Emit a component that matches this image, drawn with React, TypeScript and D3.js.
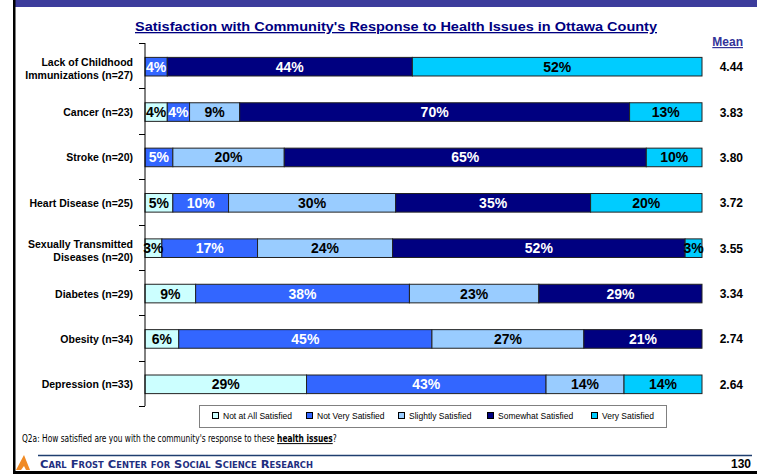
import React, { useEffect, useRef } from 'react';
import * as d3 from 'd3';

// categories (label lines) and means
const categoryLines: string[][] = [
  ["Lack of Childhood", "Immunizations (n=27)"],
  ["Cancer (n=23)"],
  ["Stroke (n=20)"],
  ["Heart Disease (n=25)"],
  ["Sexually Transmitted", "Diseases (n=20)"],
  ["Diabetes (n=29)"],
  ["Obesity (n=34)"],
  ["Depression (n=33)"],
];
const means = ["4.44", "3.83", "3.80", "3.72", "3.55", "3.34", "2.74", "2.64"];

// series values (percent)
const notAtAll = [0, 4, 0, 5, 3, 9, 6, 29];
const notVery = [4, 4, 5, 10, 17, 38, 45, 43];
const slightly = [0, 9, 20, 30, 24, 23, 27, 14];
const somewhat = [44, 70, 65, 35, 52, 29, 21, 0];
const very = [52, 13, 10, 20, 3, 0, 0, 14];

const seriesNames = [
  "Not at All Satisfied",
  "Not Very Satisfied",
  "Slightly Satisfied",
  "Somewhat Satisfied",
  "Very Satisfied",
];
const seriesValues = [notAtAll, notVery, slightly, somewhat, very];

const title = "Satisfaction with Community's Response to Health Issues in Ottawa County";

interface Row {
  cat: string;
  [key: string]: number | string;
}

const W = 757;
const H = 474;

const App: React.FC = () => {
  const svgRef = useRef<SVGSVGElement>(null);

  useEffect(() => {
    if (!svgRef.current) return;
    const svg = d3.select(svgRef.current);
    svg.selectAll("*").remove();

    const font = "'Liberation Sans', Arial, sans-serif";
    const colors = ["#CCFFFF", "#3366FF", "#99CCFF", "#000080", "#00CCFF"];
    const textColors = ["#000", "#fff", "#000", "#fff", "#000"];

    const cats = categoryLines.map(l => l.join(" "));
    const rows: Row[] = cats.map((c, i) => {
      const r: Row = { cat: c };
      seriesNames.forEach((s, j) => { r[s] = seriesValues[j][i]; });
      return r;
    });

    // frame
    svg.append("rect").attr("width", W).attr("height", H).attr("fill", "#fff");
    svg.append("rect").attr("x", 14).attr("y", 0).attr("width", W - 14).attr("height", 7).attr("fill", "#3C3C9C");
    svg.append("rect").attr("x", 13).attr("y", 0).attr("width", 2.5).attr("height", H).attr("fill", "#000");
    svg.append("rect").attr("x", 13).attr("y", 471).attr("width", W - 13).attr("height", 3).attr("fill", "#000");

    // title
    svg.append("text")
      .attr("x", 396).attr("y", 31)
      .attr("text-anchor", "middle")
      .attr("font-family", font).attr("font-weight", "bold").attr("font-size", 13)
      .attr("fill", "#000080")
      .attr("text-decoration", "underline")
      .attr("textLength", 522).attr("lengthAdjust", "spacingAndGlyphs")
      .text(title);

    // scales
    const x = d3.scaleLinear().domain([0, 1]).range([145, 702]);
    const y = d3.scaleBand().domain(cats).range([43, 406]).paddingInner(0.59).paddingOuter(0.295);
    const step = y.step();

    const stack = d3.stack<Row>()
      .keys(seriesNames)
      .value((d, k) => d[k] as number)
      .offset(d3.stackOffsetExpand);
    const series = stack(rows);

    const g = svg.append("g");
    series.forEach((s, si) => {
      const layer = g.append("g");
      s.forEach(d => {
        const v = d.data[s.key] as number;
        if (!v) return;
        const x0 = x(d[0]);
        const x1 = x(d[1]);
        const yy = (y(d.data.cat) as number) + 1;
        layer.append("rect")
          .attr("x", x0).attr("y", yy)
          .attr("width", x1 - x0).attr("height", y.bandwidth())
          .attr("fill", colors[si])
          .attr("stroke", "#222").attr("stroke-width", 1);
      });
    });
    // value labels
    series.forEach((s, si) => {
      s.forEach(d => {
        const v = d.data[s.key] as number;
        if (!v) return;
        const cx = (x(d[0]) + x(d[1])) / 2;
        const cy = (y(d.data.cat) as number) + 1 + y.bandwidth() / 2;
        g.append("text")
          .attr("x", cx).attr("y", cy + 5)
          .attr("text-anchor", "middle")
          .attr("font-family", font).attr("font-weight", "bold").attr("font-size", 14)
          .attr("fill", textColors[si])
          .text(`${v}%`);
      });
    });

    // axis
    const axis = svg.append("g").attr("stroke", "#000").attr("stroke-width", 1);
    axis.append("line").attr("x1", 145).attr("x2", 145).attr("y1", 43).attr("y2", 406);
    d3.range(cats.length + 1).forEach(i => {
      const yy = Math.round(y.range()[0] + i * step) + 0.5;
      axis.append("line").attr("x1", 139).attr("x2", 145).attr("y1", yy).attr("y2", yy);
    });

    // category labels
    categoryLines.forEach((lines, i) => {
      const cy = (y(cats[i]) as number) + 1 + y.bandwidth() / 2;
      const txt = svg.append("text")
        .attr("x", 133).attr("text-anchor", "end")
        .attr("font-family", font).attr("font-weight", "bold").attr("font-size", 10.5)
        .attr("fill", "#000");
      lines.forEach((l, li) => {
        txt.append("tspan")
          .attr("x", 133)
          .attr("y", cy + 4 + (li - (lines.length - 1) / 2) * 13 + (lines.length > 1 ? 2 : 0))
          .text(l);
      });
    });

    // means
    svg.append("text")
      .attr("x", 743).attr("y", 46).attr("text-anchor", "end")
      .attr("font-family", font).attr("font-weight", "bold").attr("font-size", 12)
      .attr("fill", "#333399").attr("text-decoration", "underline")
      .text("Mean");
    means.forEach((m, i) => {
      const cy = (y(cats[i]) as number) + 1 + y.bandwidth() / 2;
      svg.append("text")
        .attr("x", 743).attr("y", cy + 4.5).attr("text-anchor", "end")
        .attr("font-family", font).attr("font-weight", "bold").attr("font-size", 12)
        .attr("fill", "#000")
        .text(m);
    });

    // legend
    svg.append("rect").attr("x", 199.5).attr("y", 405.5).attr("width", 467).attr("height", 22)
      .attr("fill", "#fff").attr("stroke", "#808080").attr("stroke-width", 1);
    const legendX = [212, 306, 398, 487, 591];
    seriesNames.forEach((s, i) => {
      svg.append("rect").attr("x", legendX[i] + 0.5).attr("y", 412.5).attr("width", 6).attr("height", 6)
        .attr("fill", colors[i]).attr("stroke", "#000").attr("stroke-width", 1);
      svg.append("text")
        .attr("x", legendX[i] + 11).attr("y", 419)
        .attr("font-family", font).attr("font-size", 8.5).attr("fill", "#000")
        .text(s);
    });

    // footer question, horizontally condensed
    const q = svg.append("g").attr("transform", "translate(22,442) scale(0.83,1)")
      .append("text")
      .attr("x", 0).attr("y", 0)
      .attr("font-family", "'Liberation Sans Narrow', 'Arial Narrow', 'DejaVu Sans Condensed', sans-serif")
      .attr("font-size", 10).attr("fill", "#000");
    q.append("tspan").text("Q2a: How satisfied are you with the community's response to these ");
    q.append("tspan").attr("font-weight", "bold").attr("text-decoration", "underline").text("health issues");
    q.append("tspan").text("?");

    svg.append("line").attr("x1", 38).attr("x2", 752).attr("y1", 455.5).attr("y2", 455.5)
      .attr("stroke", "#1F3F6F").attr("stroke-width", 1.5);
    svg.append("polygon")
      .attr("points", "16,470 24,455 30,470 26,470 24,466 21,470")
      .attr("fill", "#F08A24");
    svg.append("text")
      .attr("x", 40).attr("y", 468)
      .attr("font-family", "'DejaVu Sans', sans-serif").attr("font-weight", "bold")
      .attr("font-size", 11).attr("font-variant", "small-caps")
      .attr("fill", "#1F2F7F")
      .attr("textLength", 273).attr("lengthAdjust", "spacingAndGlyphs")
      .text("Carl Frost Center for Social Science Research");
    svg.append("text")
      .attr("x", 751).attr("y", 468).attr("text-anchor", "end")
      .attr("font-family", font).attr("font-weight", "bold").attr("font-size", 12)
      .attr("fill", "#000")
      .text("130");
  }, []);

  return (
    <div style={{ position: "absolute", left: 0, top: 0, width: W, height: H, background: "#fff" }}>
      <svg ref={svgRef} width={W} height={H} viewBox={`0 0 ${W} ${H}`} style={{ display: "block" }} />
    </div>
  );
};

export default App;
